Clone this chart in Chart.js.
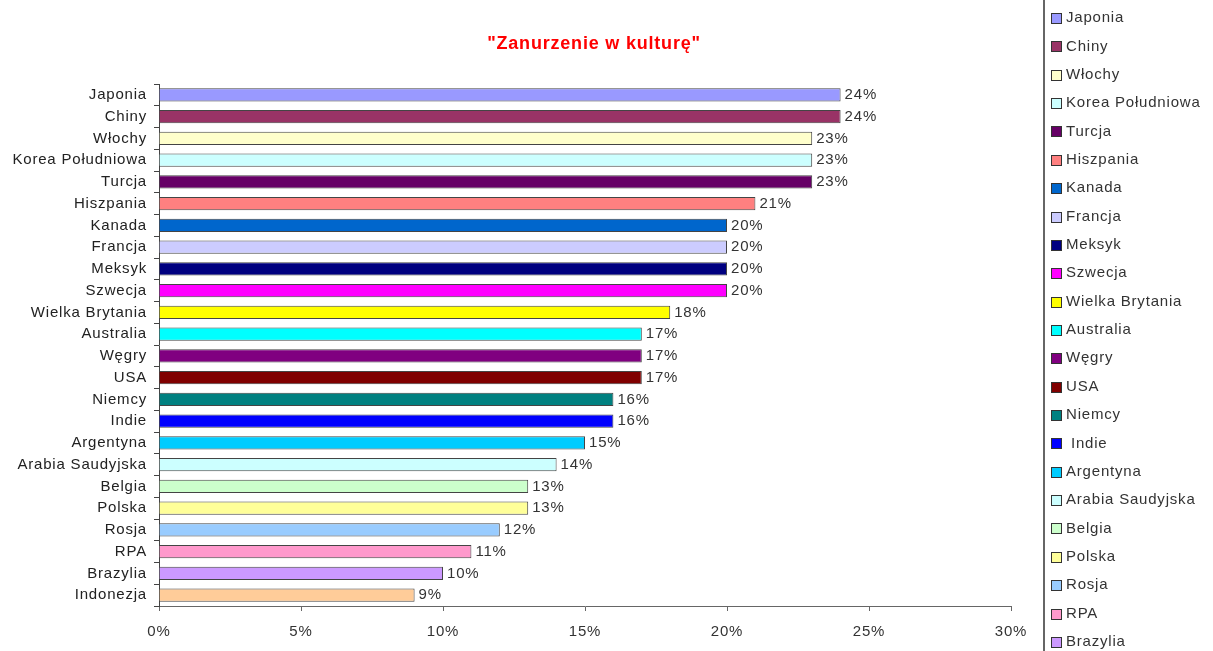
<!DOCTYPE html>
<html>
<head>
<meta charset="utf-8">
<script src="https://cdn.jsdelivr.net/npm/chart.js@4.4.0/dist/chart.umd.min.js"></script>
<style>
  html, body { margin: 0; padding: 0; background: #fff; }
  #wrap { width: 1213px; height: 651px; }
</style>
</head>
<body>
<div id="wrap"><canvas id="chart"></canvas></div>
<script>
// dane z wykresu
const tytul = '"Zanurzenie w kulturę"';
const kraje = ['Japonia', 'Chiny', 'Włochy', 'Korea Południowa', 'Turcja', 'Hiszpania', 'Kanada',
    'Francja', 'Meksyk', 'Szwecja', 'Wielka Brytania', 'Australia', 'Węgry', 'USA', 'Niemcy',
    'Indie', 'Argentyna', 'Arabia Saudyjska', 'Belgia', 'Polska', 'Rosja', 'RPA', 'Brazylia', 'Indonezja'];
const wartosci = [24, 24, 23, 23, 23, 21, 20, 20, 20, 20, 18, 17, 17, 17, 16, 16, 15, 14, 13, 13, 12, 11, 10, 9];
const kolory = ['#9999FF', '#993366', '#FFFFCC', '#CCFFFF', '#660066', '#FF8080', '#0066CC',
    '#CCCCFF', '#000080', '#FF00FF', '#FFFF00', '#00FFFF', '#800080', '#800000', '#008080',
    '#0000FF', '#00CCFF', '#CCFFFF', '#CCFFCC', '#FFFF99', '#99CCFF', '#FF99CC', '#CC99FF', '#FFCC99'];
// legenda w oryginale jest ucięta - mieści się 23 pozycji
const legendaKraje = kraje.slice(0, 23);
const legendaEtykiety = legendaKraje.map(k => k === 'Indie' ? ' Indie' : k);

const FONT = '"Liberation Sans", Arial, sans-serif';
const ODSTEP = '0.8px'; // lekko rozstrzelone litery jak w oryginale

// etykiety wartości na końcach słupków + tytuł + legenda
const extras = {
    id: 'extras',
    beforeDraw(chart) {
        chart.ctx.letterSpacing = ODSTEP;
    },
    afterDatasetsDraw(chart) {
        const ctx = chart.ctx;
        const meta = chart.getDatasetMeta(0);
        ctx.save();
        ctx.letterSpacing = ODSTEP;
        ctx.font = '15px ' + FONT;
        ctx.fillStyle = '#333';
        ctx.textAlign = 'left';
        ctx.textBaseline = 'middle';
        meta.data.forEach((bar, i) => {
            ctx.fillText(wartosci[i] + '%', bar.x + 4, bar.y);
        });

        // tytuł
        ctx.font = 'bold 18px ' + FONT;
        ctx.fillStyle = '#FF0000';
        ctx.textAlign = 'center';
        ctx.fillText(tytul, 594, 44);

        // linia oddzielająca legendę
        ctx.strokeStyle = '#666';
        ctx.lineWidth = 2;
        ctx.beginPath();
        ctx.moveTo(1044, 0);
        ctx.lineTo(1044, 651);
        ctx.stroke();

        // legenda
        ctx.font = '15px ' + FONT;
        ctx.textAlign = 'left';
        ctx.lineWidth = 1;
        legendaKraje.forEach((k, i) => {
            const y = 18 + i * 28.36;
            ctx.fillStyle = kolory[i];
            ctx.fillRect(1051.5, Math.round(y) - 4.5, 10, 10);
            ctx.strokeStyle = '#333';
            ctx.strokeRect(1051.5, Math.round(y) - 4.5, 10, 10);
            ctx.fillStyle = '#333';
            ctx.fillText(legendaEtykiety[i], 1066, y);
        });
        ctx.restore();
    }
};

new Chart(document.getElementById('chart'), {
    type: 'bar',
    data: {
        labels: kraje,
        datasets: [{
            data: wartosci,
            backgroundColor: kolory,
            borderColor: '#444',
            borderWidth: 1,
            barPercentage: 0.6,
            categoryPercentage: 1.0
        }]
    },
    options: {
        indexAxis: 'y',
        responsive: true,
        maintainAspectRatio: false,
        animation: false,
        layout: { padding: { top: 84, right: 202, bottom: 0, left: 0 } },
        plugins: {
            legend: { display: false },
            title: { display: false },
            tooltip: { enabled: false }
        },
        scales: {
            x: {
                min: 0,
                max: 30,
                afterFit(scale) { scale.height = 45; },
                ticks: {
                    stepSize: 5,
                    callback: v => v + '%',
                    color: '#333',
                    font: { family: FONT, size: 15 },
                    padding: 12
                },
                grid: { drawOnChartArea: false, drawTicks: true, tickLength: 5, color: '#666' },
                border: { display: true, color: '#666' }
            },
            y: {
                afterFit(scale) { scale.width = 159; },
                ticks: {
                    color: '#222',
                    font: { family: FONT, size: 15 },
                    padding: 7
                },
                grid: { drawOnChartArea: false, drawTicks: true, tickLength: 5, color: '#444', offset: true },
                border: { display: true, color: '#444' }
            }
        }
    },
    plugins: [extras]
});
</script>
</body>
</html>
